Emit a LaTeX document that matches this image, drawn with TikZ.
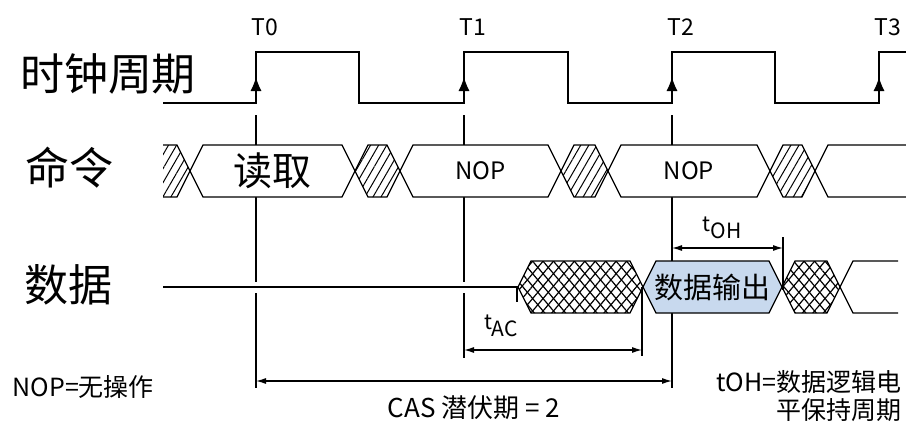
\documentclass[tikz,border=0pt]{standalone}
\usepackage{fontspec}
\setmainfont{Noto Sans CJK SC}
\usetikzlibrary{arrows.meta,patterns.meta}
\definecolor{outblue}{RGB}{200,217,238}
\newcommand{\tdrise}[2] {\coordinate (#1) at (#2,103); \draw [-{Latex[length=14pt,width=11pt]}] (#1) -- ++(0,-26); \node [edgelbl] (#1lbl) at ({#2+9},27) {#1};}
\newcommand{\tdhex}[6] {\draw [#5] (#2,#4) -- ({#2+13},{#4-26}) -- ({#3-13},{#4-26}) -- (#3,#4) -- ({#3-13},{#4+26}) -- ({#2+13},{#4+26}) -- cycle; \node (#1) at ({(#2+#3)/2},#4) {#6};}
\newcommand{\tdopen}[3] {\draw (#2,{#3-26}) -- ({#1+13},{#3-26}) -- (#1,#3) -- ({#1+13},{#3+26}) -- (#2,{#3+26});}
\tikzset{
  rowlbl/.style={font=\fontsize{44}{44}\selectfont, inner sep=0pt},
  edgelbl/.style={font=\fontsize{23}{23}\selectfont, inner sep=0pt},
  tlbl/.style={font=\fontsize{21}{21}\selectfont, inner sep=0pt},
  notelbl/.style={font=\fontsize{25}{25}\selectfont, inner sep=0pt},
  tdhatch/.style={pattern={Lines[angle=60,distance=7pt,line width=1pt]}},
  tdcross/.style={pattern={Lines[angle=50,distance=8pt,line width=1.2pt]}, postaction={pattern={Lines[angle=-50,distance=8pt,line width=1.2pt]}}},
  tdarrow/.style={<->, >={Latex[length=10pt,width=6pt]}}
}
\begin{document}
\begin{tikzpicture}[x=1pt, y=-1pt, line width=1.2pt]
\useasboundingbox (0,0) rectangle (906,423);
\node [rowlbl] (clk) at (108,74) {时钟周期};
\node [rowlbl] (cmd) at (69,168) {命令};
\node [rowlbl] (dat) at (68,285) {数据};
\draw [line width=1.6pt] (163,103) -| (256,52) -| (359,103) -| (464,52) -| (568,103) -| (672,52) -| (775,103) -| (879,52) -- (906,52);
\tdrise{T0}{256}
\tdrise{T1}{464}
\tdrise{T2}{672}
\tdrise{T3}{879}
\draw (256,115) -- (256,282) (256,293) -- (256,388);
\draw (464,115) -- (464,282) (464,293) -- (464,358);
\draw (672,115) -- (672,388);
\begin{scope}
\clip (163,130) rectangle (220,210);
\tdhex{cmdx0}{145}{190}{171}{tdhatch}{}
\end{scope}
\tdhex{cmdrd}{190}{355}{171}{fill=white}{\fontsize{39}{39}\selectfont 读取}
\tdhex{cmdx1}{355}{400}{171}{tdhatch}{}
\tdhex{cmdnop1}{400}{561}{171}{fill=white}{\fontsize{24}{24}\selectfont NOP}
\tdhex{cmdx2}{561}{608}{171}{tdhatch}{}
\tdhex{cmdnop2}{608}{770}{171}{fill=white}{\fontsize{24}{24}\selectfont NOP}
\tdhex{cmdx3}{770}{815}{171}{tdhatch}{}
\tdopen{815}{906}{171}
\draw (163,287) -- (518,287);
\draw (517,287) -- (517,302);
\tdhex{datx1}{518}{643}{287}{tdcross}{}
\tdhex{datout}{643}{782}{287}{fill=outblue}{\fontsize{29}{29}\selectfont 数据输出}
\tdhex{datx2}{782}{840}{287}{tdcross}{}
\tdopen{840}{898}{287}
\coordinate (tohend) at (783,248);
\draw (783,237) -- (783,290);
\draw [tdarrow] (T2 |- tohend) -- (tohend);
\node [tlbl] (tohlbl) at (722,228) {t\raisebox{-7pt}{OH}};
\coordinate (tacend) at (642,350);
\draw (642,287) -- (642,356);
\draw [tdarrow] (T1 |- tacend) -- (tacend);
\node [tlbl] (taclbl) at (501,326) {t\raisebox{-7pt}{AC}};
\coordinate (casy) at (0,381);
\draw [tdarrow] (T0 |- casy) -- (T2 |- casy);
\node [notelbl, font=\fontsize{26}{26}\selectfont] (caslbl) at (474,408) {CAS 潜伏期 = 2};
\node [notelbl, anchor=west] (nopnote) at (12,387) {NOP=无操作};
\node [notelbl, anchor=east] (tohnote) at (902,382) {tOH=数据逻辑电};
\node [notelbl, anchor=east] (tohnote2) at (902,410) {平保持周期};
\end{tikzpicture}
\end{document}
